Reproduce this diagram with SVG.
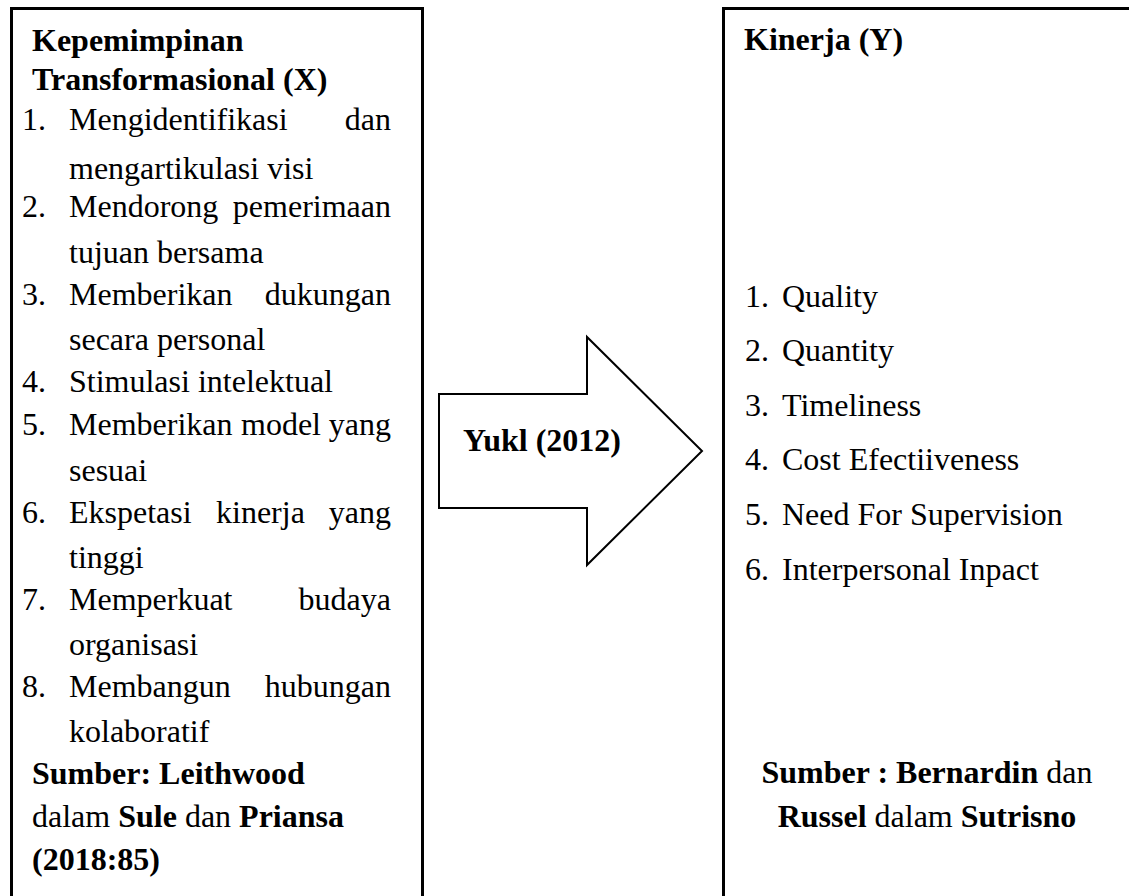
<svg xmlns="http://www.w3.org/2000/svg" width="1129" height="896" viewBox="0 0 1129 896">
<style>
text{font-family:"Liberation Serif","Times New Roman",serif;font-size:32px;fill:#000}
.b{font-weight:bold}
.e{text-anchor:end}
.m{text-anchor:middle}
.box{fill:none;stroke:#000;stroke-width:3}
.arrow{fill:#fff;stroke:#000;stroke-width:2;stroke-linejoin:miter}
</style>
<rect width="1129" height="896" fill="#fff"/>
<g id="node-x">
<path class="box" d="M11.5,900 V8.5 H422.5 V900"/>
<text class="b" x="32" y="51">Kepemimpinan</text>
<text class="b" x="32" y="90">Transformasional (X)</text>
<text x="22" y="130">1.</text><text x="69" y="130">Mengidentifikasi</text><text class="e" x="391" y="130">dan</text>
<text x="69" y="179">mengartikulasi visi</text>
<text x="22" y="217">2.</text><text x="69" y="217">Mendorong</text><text class="e" x="391" y="217">pemerimaan</text>
<text x="69" y="263">tujuan bersama</text>
<text x="22" y="305">3.</text><text x="69" y="305">Memberikan</text><text class="e" x="391" y="305">dukungan</text>
<text x="69" y="350">secara personal</text>
<text x="22" y="392">4.</text><text x="69" y="392">Stimulasi intelektual</text>
<text x="22" y="435">5.</text><text x="69" y="435">Memberikan</text><text x="241" y="435">model</text><text class="e" x="391" y="435">yang</text>
<text x="69" y="481">sesuai</text>
<text x="22" y="523">6.</text><text x="69" y="523">Ekspetasi</text><text x="216" y="523">kinerja</text><text class="e" x="391" y="523">yang</text>
<text x="69" y="568">tinggi</text>
<text x="22" y="610">7.</text><text x="69" y="610">Memperkuat</text><text class="e" x="391" y="610">budaya</text>
<text x="69" y="655">organisasi</text>
<text x="22" y="697">8.</text><text x="69" y="697">Membangun</text><text class="e" x="391" y="697">hubungan</text>
<text x="69" y="742">kolaboratif</text>
<text class="b" x="32" y="784">Sumber: Leithwood</text>
<text x="32" y="827">dalam <tspan class="b">Sule</tspan> dan <tspan class="b">Priansa</tspan></text>
<text class="b" x="32" y="870">(2018:85)</text>
</g>
<g id="connectors">
<g id="arrow-yukl">
<polygon class="arrow" points="439,394 587,394 587,337 702,451 587,565 587,508 439,508"/>
<text class="b" x="463" y="451">Yukl (2012)</text>
</g>
</g>
<g id="node-y">
<path class="box" d="M723.5,900 V8.5 H1135"/>
<text class="b" x="744" y="50">Kinerja (Y)</text>
<text x="745" y="307">1.</text><text x="782" y="307">Quality</text>
<text x="745" y="361">2.</text><text x="782" y="361">Quantity</text>
<text x="745" y="416">3.</text><text x="782" y="416">Timeliness</text>
<text x="745" y="470">4.</text><text x="782" y="470">Cost Efectiiveness</text>
<text x="745" y="525">5.</text><text x="782" y="525">Need For Supervision</text>
<text x="745" y="580">6.</text><text x="782" y="580">Interpersonal Inpact</text>
<text class="m" x="927" y="783"><tspan class="b">Sumber : Bernardin</tspan> dan</text>
<text class="m" x="927" y="827"><tspan class="b">Russel</tspan> dalam <tspan class="b">Sutrisno</tspan></text>
</g>
</svg>
